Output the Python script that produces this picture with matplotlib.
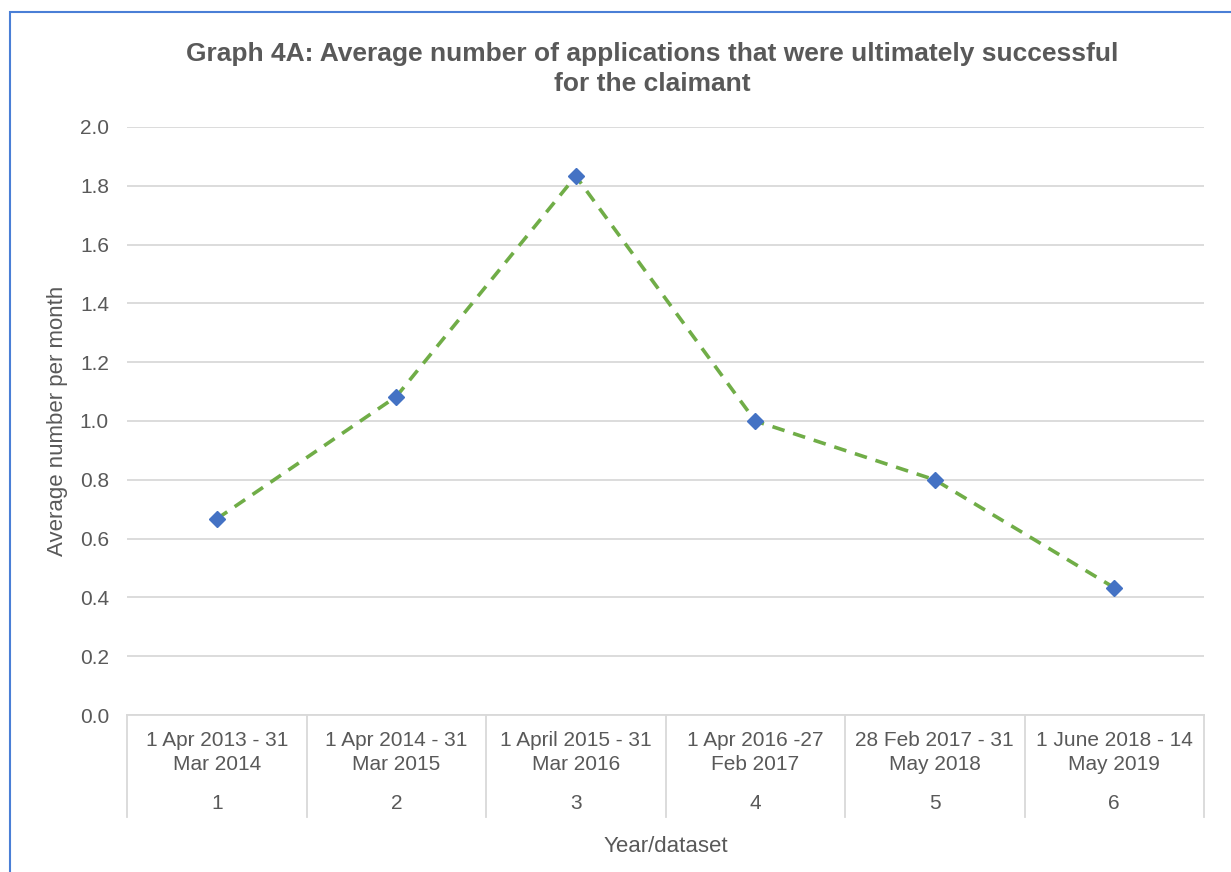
import matplotlib.pyplot as plt
from matplotlib.patches import Rectangle
from matplotlib.transforms import blended_transform_factory

plt.rcParams['font.family'] = ['Liberation Sans', 'DejaVu Sans']

# data
datasets = [1, 2, 3, 4, 5, 6]
periods = ["1 Apr 2013 - 31\nMar 2014", "1 Apr 2014 - 31\nMar 2015",
           "1 April 2015 - 31\nMar 2016", "1 Apr 2016 -27\nFeb 2017",
           "28 Feb 2017 - 31\nMay 2018", "1 June 2018 - 14\nMay 2019"]
avg_per_month = [0.667, 1.083, 1.833, 1.0, 0.8, 0.433]

text_col = "#595959"
grid_col = "#d9d9d9"

fig = plt.figure(figsize=(12.31, 8.72), dpi=100)
fig.patches.append(Rectangle((10 / 1231, -0.1), 1.2, 1 - 12 / 872 + 0.1,
                             transform=fig.transFigure, fill=False,
                             edgecolor="#4a7fd6", linewidth=1.5))

ax = fig.add_axes([127 / 1231, 1 - 715 / 872, (1204 - 127) / 1231, (715 - 127) / 872])

ax.plot(datasets, avg_per_month, color="#70ad47", linewidth=2.6,
        linestyle=(0, (3.5, 2.5)), zorder=3)
ax.plot(datasets, avg_per_month, linestyle="none", marker="D",
        markersize=8, color="#4472c4", zorder=4)

ax.set_xlim(0.5, 6.5)
ax.set_ylim(0, 2.0)
ax.set_yticks([i / 10 for i in range(0, 21, 2)])
ax.set_yticklabels([f"{i / 10:.1f}" for i in range(0, 21, 2)])
ax.tick_params(axis="y", length=0, pad=13, labelsize=15, labelcolor=text_col)
ax.set_xticks([])
ax.grid(axis="y", color=grid_col, linewidth=1.3)
ax.set_axisbelow(True)
for s in ["top", "right", "left"]:
    ax.spines[s].set_visible(False)
ax.spines["bottom"].set_color(grid_col)
ax.spines["bottom"].set_linewidth(1.3)

# two-level category axis
trans = blended_transform_factory(ax.transData, ax.transAxes)
for b in [0.5, 1.5, 2.5, 3.5, 4.5, 5.5, 6.5]:
    ax.plot([b, b], [0, -0.1735], transform=trans, color=grid_col,
            linewidth=1.3, clip_on=False)
for x, p in zip(datasets, periods):
    ax.text(x, -0.064, p, transform=trans, ha="center", va="center",
            fontsize=15, color=text_col, linespacing=1.38)
    ax.text(x, -0.151, str(x), transform=trans, ha="center", va="center",
            fontsize=15, color=text_col)

ax.text(0.5, -0.223, "Year/dataset", transform=ax.transAxes, ha="center",
        va="center", fontsize=16, color=text_col)
fig.text(58 / 1231, 1 - 421 / 872, "Average number per month", rotation=90,
         ha="center", va="center", fontsize=16, color=text_col)

fig.text(652 / 1231, 1 - 69 / 872,
         "Graph 4A: Average number of applications that were ultimately successful\nfor the claimant",
         ha="center", va="center", fontsize=19, fontweight="bold",
         color=text_col, linespacing=1.32)

fig.savefig("out.png", dpi=100)
